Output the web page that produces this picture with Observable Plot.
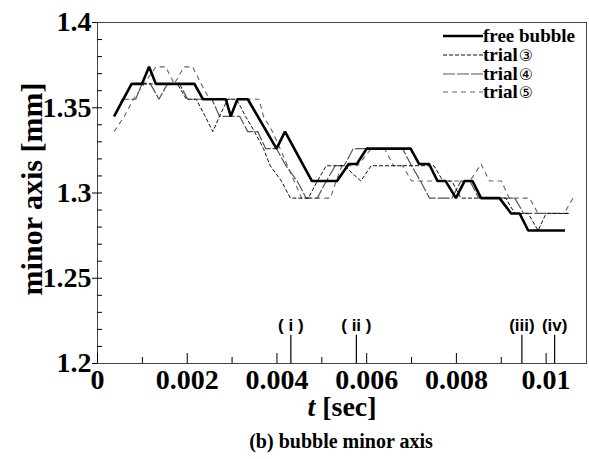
<!DOCTYPE html>
<html><head><meta charset="utf-8">
<script src="https://cdn.jsdelivr.net/npm/d3@7"></script>
<script src="https://cdn.jsdelivr.net/npm/@observablehq/plot@0.6"></script>
<style>
body{margin:0;background:#fff;}
#wrap{position:relative;width:589px;height:459px;overflow:hidden;background:#fff;}
#legend{position:absolute;left:443px;top:27px;font:bold 19px 'Liberation Serif',serif;color:#000;}
#legend .row{display:flex;align-items:center;height:18.7px;line-height:18px;white-space:nowrap;}
#legend .num{font-family:'DejaVu Sans',sans-serif;font-weight:normal;font-size:16px;margin-left:1px;line-height:16px;}
#caption{position:absolute;left:191px;width:300px;top:430px;text-align:center;font:bold 20px 'Liberation Serif',serif;line-height:22px;}
</style></head><body><div id="wrap"></div>
<script>
// ---- data ----
const seriesNames = ["free bubble", "trial③", "trial④", "trial⑤"];

const freeT = [0.00037,0.00076,0.00099,0.00115,0.0013,0.00216,0.00235,0.00286,0.00297,0.00312,0.00335,0.00399,0.00418,0.00478,0.00534,0.0056,0.00578,0.006,0.00698,0.00717,0.00739,0.00758,0.00776,0.00799,0.00818,0.00836,0.00855,0.00896,0.00922,0.00941,0.0096,0.01042];
const freeV = [1.345,1.364,1.364,1.374,1.364,1.364,1.355,1.355,1.345,1.355,1.355,1.326,1.336,1.307,1.307,1.317,1.317,1.326,1.326,1.317,1.317,1.307,1.307,1.297,1.307,1.307,1.297,1.297,1.288,1.288,1.278,1.278];

const trial3T = [0.00037,0.00058,0.00076,0.00178,0.00198,0.0022,0.0024,0.00257,0.00272,0.0029,0.0031,0.0033,0.0035,0.0037,0.00385,0.0041,0.0043,0.0047,0.0049,0.0051,0.0055,0.00587,0.0061,0.0075,0.0077,0.0079,0.0081,0.0091,0.0093,0.0096,0.00982,0.01,0.0105];
const trial3V = [1.345,1.355,1.364,1.364,1.355,1.355,1.345,1.336,1.345,1.355,1.355,1.345,1.336,1.326,1.316,1.307,1.297,1.297,1.307,1.316,1.316,1.307,1.316,1.316,1.307,1.307,1.297,1.297,1.288,1.288,1.278,1.288,1.288];

const trial4T = [0.00037,0.00055,0.00085,0.00099,0.00118,0.00137,0.00156,0.00183,0.00201,0.00255,0.00272,0.00317,0.00335,0.00357,0.00375,0.00399,0.0042,0.00445,0.00465,0.0049,0.0051,0.0053,0.0055,0.0057,0.0068,0.007,0.0072,0.0074,0.0079,0.0081,0.0083,0.0085,0.0093,0.0095,0.0105];
const trial4V = [1.345,1.355,1.355,1.364,1.364,1.355,1.364,1.364,1.355,1.355,1.345,1.345,1.336,1.336,1.326,1.326,1.316,1.307,1.297,1.297,1.307,1.316,1.316,1.326,1.326,1.316,1.307,1.297,1.297,1.307,1.307,1.297,1.297,1.288,1.288];

const trial5T = [0.00037,0.0006,0.0008,0.00104,0.0013,0.00152,0.00171,0.00193,0.00212,0.00231,0.0025,0.0036,0.0037,0.0039,0.00407,0.00455,0.00519,0.00532,0.00545,0.0058,0.0061,0.0064,0.0066,0.0068,0.007,0.0083,0.00855,0.00874,0.009,0.00918,0.00963,0.00982,0.0104,0.0106];
const trial5V = [1.336,1.345,1.355,1.364,1.374,1.374,1.364,1.374,1.374,1.364,1.355,1.355,1.345,1.336,1.326,1.297,1.297,1.307,1.316,1.316,1.326,1.326,1.316,1.316,1.307,1.307,1.317,1.307,1.307,1.297,1.297,1.288,1.288,1.297];

const eventT = [0.00431, 0.00577, 0.00946, 0.01019];
const eventLabels = ["( i )", "( ii )", "(iii)", "(iv)"];

const xTicks = [0, 0.002, 0.004, 0.006, 0.008, 0.01];
const xTickLabels = ["0", "0.002", "0.004", "0.006", "0.008", "0.01"];
const xMinor = [0.001, 0.003, 0.005, 0.007, 0.009];
const yTicks = [1.2, 1.25, 1.3, 1.35, 1.4];
const yTickLabels = ["1.2", "1.25", "1.3", "1.35", "1.4"];
const yMinor = [1.21,1.22,1.23,1.24,1.25,1.26,1.27,1.28,1.29,1.3,1.31,1.32,1.33,1.34,1.35,1.36,1.37,1.38,1.39];

const xLabel = "t [sec]";
const yLabel = "minor axis [mm]";
const captionText = "(b) bubble minor axis";

// ---- styles ----
const styles = [
  {stroke: "#000", strokeWidth: 2.6, dash: null},
  {stroke: "#111", strokeWidth: 1, dash: "4,2"},
  {stroke: "#555", strokeWidth: 1.2, dash: "12,2"},
  {stroke: "#666", strokeWidth: 1.1, dash: "5,4"}
];

const toRows = (t, v) => t.map((x, i) => ({t: x, v: v[i]}));
const seriesData = [toRows(freeT, freeV), toRows(trial3T, trial3V), toRows(trial4T, trial4V), toRows(trial5T, trial5V)];

const serif = "'Liberation Serif', 'Times New Roman', serif";
const markTop = 1.2165;

const lineMarks = [3, 2, 1, 0].map(k => Plot.line(seriesData[k], {
  x: "t", y: "v", stroke: styles[k].stroke, strokeWidth: styles[k].strokeWidth,
  strokeDasharray: styles[k].dash, strokeLinejoin: "miter", strokeLinecap: "butt"
}));

const chart = Plot.plot({
  width: 589, height: 426,
  marginLeft: 97, marginRight: 3, marginTop: 22, marginBottom: 63,
  x: {domain: [0, 0.0109]},
  y: {domain: [1.2, 1.4]},
  style: {fontFamily: serif, background: "white", color: "#000"},
  marks: [
    Plot.frame({stroke: "#444", strokeWidth: 1}),
    Plot.axisX({ticks: xTicks, tickFormat: d => xTickLabels[xTicks.indexOf(d)], tickSize: 0, tickPadding: 6,
      fontSize: 28, fontWeight: "bold", label: null}),
    Plot.axisX({ticks: xTicks, tickSize: -10, tickFormat: () => "", label: null}),
    Plot.axisX({ticks: xMinor, tickSize: -6, tickFormat: () => "", label: null}),
    Plot.axisY({ticks: yTicks, tickFormat: d => yTickLabels[yTicks.indexOf(d)], tickSize: 5, tickPadding: 1,
      fontSize: 28, fontWeight: "bold", label: null}),
    Plot.axisY({ticks: yMinor, tickSize: -5, tickFormat: () => "", label: null}),
    ...lineMarks,
    Plot.ruleX(eventT, {x: d => d, y1: 1.2, y2: markTop, stroke: "#000", strokeWidth: 1.2}),
    Plot.text(eventT, {x: d => d, y: 1.2, text: (d, i) => eventLabels[i], dy: -38,
      fontFamily: "'Liberation Sans', Arial, sans-serif", fontWeight: "bold", fontSize: 17}),
    Plot.text([yLabel], {frameAnchor: "left", textAnchor: "middle", dx: -65, dy: -4, rotate: -90, text: d => d, fontSize: 30, fontWeight: "bold"}),
    Plot.text([xLabel], {frameAnchor: "bottom", textAnchor: "middle", dy: 52, text: d => d, fontSize: 28, fontWeight: "bold"})
  ]
});

const wrap = document.getElementById("wrap");
wrap.appendChild(chart);

// italic "t" in the x label
d3.select(chart).selectAll("text").filter(function() { return this.textContent === xLabel; })
  .each(function() {
    const s = d3.select(this);
    s.text(null);
    s.append("tspan").attr("font-style", "italic").text("t");
    s.append("tspan").text(" [sec]");
  });

// legend
const legend = document.createElement("div");
legend.id = "legend";
seriesNames.forEach((name, k) => {
  const row = document.createElement("div");
  row.className = "row";
  const svg = d3.create("svg").attr("width", 40).attr("height", 6);
  svg.append("line").attr("x1", 0).attr("x2", 40).attr("y1", 3).attr("y2", 3)
    .attr("stroke", styles[k].stroke).attr("stroke-width", styles[k].strokeWidth)
    .attr("stroke-dasharray", styles[k].dash);
  row.appendChild(svg.node());
  const m = name.match(/^(.*?)([\u2460-\u2473])$/);
  const span = document.createElement("span");
  if (m) {
    span.textContent = m[1];
    const num = document.createElement("span");
    num.className = "num";
    num.textContent = m[2];
    span.appendChild(num);
  } else {
    span.textContent = name;
  }
  row.appendChild(span);
  legend.appendChild(row);
});
wrap.appendChild(legend);

const cap = document.createElement("div");
cap.id = "caption";
cap.textContent = captionText;
wrap.appendChild(cap);
</script>
</body></html>
